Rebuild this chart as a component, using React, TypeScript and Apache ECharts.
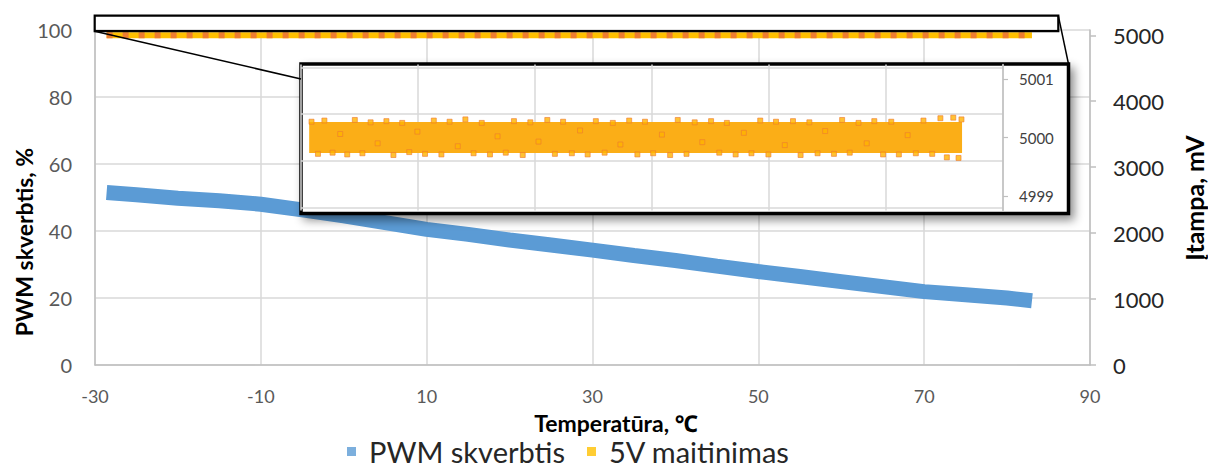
import React, { useEffect, useRef } from "react";
import * as echarts from "echarts";

// ---- data ----
const tempTicks = [-30, -10, 10, 30, 50, 70, 90];
const pwmTicks = [0, 20, 40, 60, 80, 100];
const mvTicks = [0, 1000, 2000, 3000, 4000, 5000];
const insetTicks = [4999, 5000, 5001];
const insetGridValues = [4998.8, 4999.6, 5000.4, 5001.2];

const pwmTemp = [-28.6, -25, -20, -15, -10, -5, 0, 5, 10, 15, 20, 25, 30, 35, 40, 45, 50, 55, 60, 65, 70, 75, 80, 83];
const pwmValue = [51.5, 50.8, 49.8, 49.0, 48.0, 46.3, 44.5, 42.5, 40.5, 39.0, 37.3, 35.8, 34.3, 32.7, 31.2, 29.5, 27.9, 26.4, 24.9, 23.4, 21.9, 21.0, 20.0, 19.2];

const supplyTemp = [-28.6, 83];
const supplyMv = [5000, 5000];

const speckTemp = [-28.2, -27.1, -26.0, -24.6, -23.3, -22.1, -20.8, -19.5, -18.1, -16.9, -15.4, -14.2, -12.7, -11.5, -10.1, -8.8, -7.3, -6.0, -4.6, -3.2, -1.9, -0.5, 0.9, 2.3, 3.6, 5.0, 6.4, 7.9, 9.2, 10.6, 12.1, 13.4, 14.8, 16.3, 17.7, 19.0, 20.4, 21.9, 23.3, 24.6, 26.1, 27.5, 28.8, 30.2, 31.7, 33.1, 34.4, 35.9, 37.3, 38.6, 40.1, 41.5, 42.8, 44.3, 45.7, 47.0, 48.5, 49.9, 51.2, 52.7, 54.1, 55.4, 56.9, 58.3, 59.6, 61.1, 62.5, 63.8, 65.3, 66.7, 68.0, 69.5, 70.9, 72.2, 73.7, 75.1, 76.4, 77.9, 79.3, 80.4, 81.5, 82.4, 82.9];
const speckMv = [5000.27, 4999.72, 5000.29, 4999.74, 5000.06, 4999.71, 5000.30, 4999.73, 5000.26, 4999.90, 5000.28, 4999.70, 5000.25, 4999.75, 5000.10, 4999.72, 5000.29, 4999.71, 5000.27, 4999.85, 5000.31, 4999.73, 5000.25, 4999.71, 5000.02, 4999.74, 5000.28, 4999.70, 5000.26, 4999.93, 5000.30, 4999.72, 5000.27, 4999.73, 5000.12, 4999.71, 5000.28, 4999.74, 5000.25, 4999.88, 5000.29, 4999.71, 5000.27, 4999.73, 5000.05, 4999.70, 5000.30, 4999.72, 5000.26, 4999.92, 5000.28, 4999.74, 5000.25, 4999.71, 5000.08, 4999.73, 5000.29, 4999.71, 5000.27, 4999.87, 5000.28, 4999.70, 5000.26, 4999.73, 5000.11, 4999.72, 5000.30, 4999.74, 5000.25, 4999.90, 5000.28, 4999.71, 5000.27, 4999.71, 5000.04, 4999.73, 5000.29, 4999.72, 5000.33, 4999.66, 5000.34, 4999.65, 5000.31];

const zip = (a: number[], b: number[]) => a.map((v, i) => [v, b[i]]);
const plain = (v: number) => String(v);

const FONT = "Lato, 'Noto Sans', sans-serif";
const BLUE = "#5B9BD5";
const GOLD = "#FFC000";
const ORANGE = "#ED7D31";

export default function App() {
  const ref = useRef<HTMLDivElement>(null);
  useEffect(() => {
    document.body.style.margin = "0";
    const chart = echarts.init(ref.current!, undefined, { renderer: "svg" });
    chart.setOption({
      animation: false,
      textStyle: { fontFamily: FONT },
      grid: [
        { left: 95, right: 118, top: 30, bottom: 105 },
        { left: 301, top: 64.5, width: 702, height: 146, z: 6 },
      ],
      legend: {
        data: ["PWM skverbtis", "5V maitinimas"],
        left: 347,
        top: 437,
        padding: 0,
        icon: "rect",
        itemWidth: 9,
        itemHeight: 9,
        itemGap: 22,
        itemStyle: { borderWidth: 0 },
        textStyle: { fontSize: 29, color: "#262626", fontFamily: FONT, padding: [0, 0, 0, 8] },
      },
      xAxis: [
        {
          type: "value", gridIndex: 0, min: -30, max: 90, interval: 20,
          axisLine: { show: true, onZero: false, lineStyle: { color: "#BFBFBF", width: 1.5 } },
          axisTick: { show: false },
          axisLabel: { fontSize: 18, color: "#595959", margin: 22, customValues: tempTicks, formatter: plain },
          splitLine: { show: true, lineStyle: { color: "#D9D9D9", width: 1.5 } },
        },
        {
          type: "value", gridIndex: 1, min: -30, max: 90, interval: 20, z: 6,
          axisLine: { show: false, onZero: false }, axisTick: { show: false }, axisLabel: { show: false },
          splitLine: { show: true, lineStyle: { color: "#D9D9D9", width: 1.5 } },
        },
      ],
      yAxis: [
        {
          type: "value", gridIndex: 0, min: 0, max: 100, interval: 20, position: "left",
          axisLine: { show: true, onZero: false, lineStyle: { color: "#BFBFBF", width: 1.5 } },
          axisTick: { show: false },
          axisLabel: { fontSize: 20, color: "#595959", margin: 23, customValues: pwmTicks, formatter: plain },
          splitLine: { show: true, lineStyle: { color: "#D9D9D9", width: 1.5 } },
        },
        {
          type: "value", gridIndex: 0, min: 0, max: 5080, position: "right",
          axisLine: { show: true, onZero: false, lineStyle: { color: "#BFBFBF", width: 1.5 } },
          axisTick: { show: true, length: 6, customValues: mvTicks, lineStyle: { color: "#BFBFBF", width: 1.5 } },
          axisLabel: { fontSize: 22, color: "#262626", margin: 23, customValues: mvTicks, formatter: plain },
          splitLine: { show: false },
        },
        {
          type: "value", gridIndex: 1, min: 4998.75, max: 5001.25, position: "right", z: 6,
          axisLine: { show: true, onZero: false, lineStyle: { color: "#BFBFBF", width: 1.5 } },
          axisTick: { show: true, length: 5, customValues: insetTicks, lineStyle: { color: "#BFBFBF", width: 1.2 } },
          axisLabel: { fontSize: 15, color: "#404040", margin: 16, customValues: insetTicks, formatter: plain },
          splitLine: { show: false },
        },
      ],
      series: [
        // legend swatches (scatter gives plain square legend icons)
        {
          name: "PWM skverbtis", type: "scatter", xAxisIndex: 0, yAxisIndex: 0, data: [],
          symbol: "rect", itemStyle: { color: BLUE },
        },
        {
          name: "5V maitinimas", type: "scatter", xAxisIndex: 0, yAxisIndex: 1, data: [],
          symbol: "rect", itemStyle: { color: GOLD },
        },
        {
          name: "PWM skverbtis", type: "line", xAxisIndex: 0, yAxisIndex: 0, z: 2,
          data: zip(pwmTemp, pwmValue), showSymbol: false, symbol: "rect",
          color: BLUE, lineStyle: { color: BLUE, width: 15 },
        },
        {
          name: "5V maitinimas", type: "line", xAxisIndex: 0, yAxisIndex: 1, z: 3,
          data: zip(supplyTemp, supplyMv), showSymbol: false, symbol: "rect",
          color: GOLD, lineStyle: { color: GOLD, width: 6 },
        },
        {
          name: "5V stripes", type: "line", xAxisIndex: 0, yAxisIndex: 1, z: 3,
          data: zip(supplyTemp, supplyMv), showSymbol: false,
          lineStyle: { color: ORANGE, width: 6, type: [6, 10] },
        },
        {
          name: "inset grid", type: "line", xAxisIndex: 1, yAxisIndex: 2, z: 6,
          data: zip(supplyTemp, supplyMv), showSymbol: false,
          lineStyle: { width: 0, opacity: 0 },
          markLine: {
            silent: true, symbol: ["none", "none"], label: { show: false },
            lineStyle: { color: "#D9D9D9", type: "solid", width: 1.5 },
            data: insetGridValues.map((v) => ({ yAxis: v })),
          },
        },
        {
          name: "5V inset", type: "line", xAxisIndex: 1, yAxisIndex: 2, z: 7,
          data: zip(supplyTemp, supplyMv), showSymbol: false,
          lineStyle: { color: "#FBAE17", width: 31 },
        },
        {
          name: "5V inset points", type: "scatter", xAxisIndex: 1, yAxisIndex: 2, z: 8,
          data: zip(speckTemp, speckMv), symbol: "rect", symbolSize: 5,
          itemStyle: { color: "#FFB300", borderColor: ORANGE, borderWidth: 0.8 },
        },
      ],
      graphic: [
        {
          type: "rect", z: 5, silent: true,
          shape: { x: 301, y: 64, width: 767.5, height: 149.5 },
          style: {
            fill: "#fff", stroke: "#000", lineWidth: 3.5,
            shadowBlur: 10, shadowOffsetX: 4, shadowOffsetY: 5, shadowColor: "rgba(0,0,0,0.45)",
          },
        },
        {
          type: "rect", z: 9, silent: true,
          shape: { x: 94.7, y: 15.7, width: 963.6, height: 15.5 },
          style: { fill: "transparent", stroke: "#000", lineWidth: 2.2 },
        },
        {
          type: "line", z: 9, silent: true,
          shape: { x1: 94.7, y1: 31.2, x2: 301, y2: 79 },
          style: { stroke: "#000", lineWidth: 1.5 },
        },
        {
          type: "line", z: 9, silent: true,
          shape: { x1: 1058.3, y1: 15.7, x2: 1068.5, y2: 64 },
          style: { stroke: "#000", lineWidth: 1.5 },
        },
        {
          type: "text", z: 9, x: 24, y: 242, rotation: Math.PI / 2, silent: true,
          style: { text: "PWM skverbtis, %", font: `bold 23px ${FONT}`, fill: "#000", align: "center", verticalAlign: "middle" },
        },
        {
          type: "text", z: 9, x: 1194, y: 198, rotation: Math.PI / 2, silent: true,
          style: { text: "Įtampa, mV", font: `bold 25px ${FONT}`, fill: "#000", align: "center", verticalAlign: "middle" },
        },
        {
          type: "text", z: 9, x: 616, y: 423, silent: true,
          style: { text: "Temperatūra, ℃", font: `bold 23px ${FONT}`, fill: "#000", align: "center", verticalAlign: "middle" },
        },
      ],
    });
    return () => chart.dispose();
  }, []);
  return <div ref={ref} style={{ width: 1208, height: 470 }} />;
}
